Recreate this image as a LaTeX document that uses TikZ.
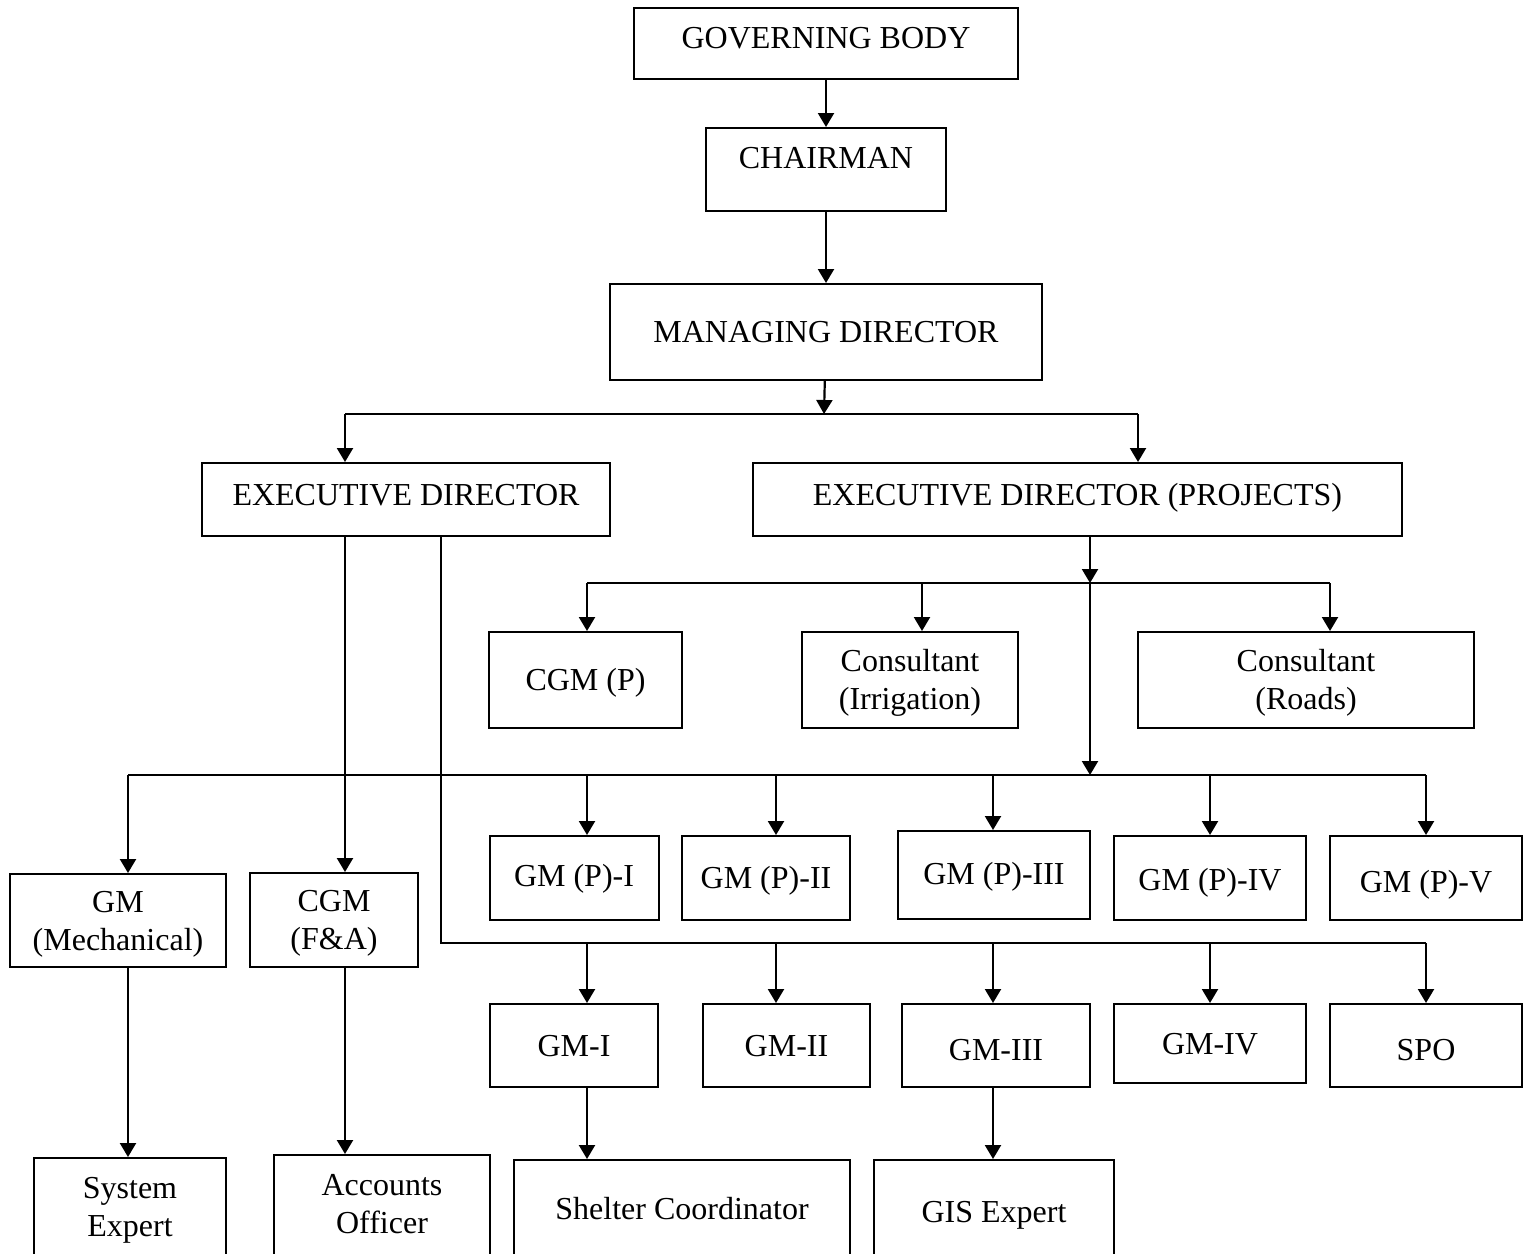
\documentclass[tikz,border=0pt]{standalone}
\usepackage{fontspec}
\setmainfont{Liberation Serif}
\usetikzlibrary{arrows.meta}
\tikzstyle{block} = [rectangle, draw, line width=1pt, text centered, inner sep=0pt]
\tikzstyle{oneline} = [text height=10.6pt, text depth=0pt]
\tikzstyle{twoline} = [align=center, text height=29.6pt, text depth=0pt]
\tikzstyle{line} = [line width=1.1pt]
\tikzstyle{arrow} = [line width=1.1pt, -{Triangle[length=7pt,width=8pt]}]

\begin{document}
\begin{tikzpicture}[x=0.5pt, y=-0.5pt, font=\fontsize{16}{19}\selectfont]
    \path[use as bounding box] (0,0) rectangle (1530,1253);
    \clip (0,0) rectangle (1530,1253);

    % Place nodes
    \node [block, oneline, text depth=6pt, minimum width=192pt, minimum height=35.5pt] (gb) at (826,43.5) {GOVERNING BODY};
    \node [block, oneline, text depth=12pt, minimum width=120pt, minimum height=41.5pt] (ch) at (826,169.5) {CHAIRMAN};
    \node [block, oneline, minimum width=216pt, minimum height=48pt] (md) at (826,332) {MANAGING DIRECTOR};
    \node [block, oneline, text depth=5pt, minimum width=204pt, minimum height=36.5pt] (ed) at (406,499.5) {EXECUTIVE DIRECTOR};
    \node [block, oneline, text depth=5pt, minimum width=324.5pt, minimum height=36.5pt] (edp) at (1077.5,499.5) {EXECUTIVE DIRECTOR (PROJECTS)};

    \node [block, oneline, minimum width=96.5pt, minimum height=48pt] (cgmp) at (585.5,680) {CGM (P)};
    \node [block, twoline, minimum width=108pt, minimum height=48pt] (cirr) at (910,680) {Consultant\\(Irrigation)};
    \node [block, twoline, minimum width=168pt, minimum height=48pt] (croad) at (1306,680) {Consultant\\(Roads)};

    \node [block, oneline, text depth=2.5pt, minimum width=84.5pt, minimum height=42pt] (gmp1) at (574,878) {GM (P)-I};
    \node [block, oneline, minimum width=84pt, minimum height=42pt] (gmp2) at (766,878) {GM (P)-II};
    \node [block, oneline, text depth=1pt, minimum width=96pt, minimum height=44pt] (gmp3) at (994,875) {GM (P)-III};
    \node [block, oneline, text height=12.6pt, minimum width=96pt, minimum height=42pt] (gmp4) at (1210,878) {GM (P)-IV};
    \node [block, oneline, text height=14.6pt, minimum width=96pt, minimum height=42pt] (gmp5) at (1426,878) {GM (P)-V};

    \node [block, twoline, minimum width=108pt, minimum height=46.5pt] (gmmech) at (118,920.5) {GM\\(Mechanical)};
    \node [block, twoline, minimum width=84pt, minimum height=47pt] (cgmfa) at (334,920) {CGM\\(F\&A)};

    \node [block, oneline, minimum width=84pt, minimum height=41.5pt] (gm1) at (574,1045.5) {GM-I};
    \node [block, oneline, minimum width=83.5pt, minimum height=41.5pt] (gm2) at (786.5,1045.5) {GM-II};
    \node [block, oneline, text height=15pt, minimum width=94pt, minimum height=41.5pt] (gm3) at (996,1045.5) {GM-III};
    \node [block, oneline, minimum width=96pt, minimum height=39.5pt] (gm4) at (1210,1043.5) {GM-IV};
    \node [block, oneline, text height=15pt, minimum width=96pt, minimum height=41.5pt] (spo) at (1426,1045.5) {SPO};

    \node [block, twoline, minimum width=96pt, minimum height=49pt] (sysx) at (130,1207) {System\\Expert};
    \node [block, twoline, text depth=3pt, minimum width=108pt, minimum height=51.5pt] (acco) at (382,1206.5) {Accounts\\Officer};
    \node [block, oneline, minimum width=168pt, minimum height=49pt] (shel) at (682,1209) {Shelter Coordinator};
    \node [block, oneline, minimum width=120pt, minimum height=52pt] (gis) at (994,1212) {GIS Expert};

    % Draw edges
    \draw [arrow] (gb) -- (ch);
    \draw [arrow] (ch) -- (md);

    \coordinate (mdsplit) at (824,414);
    \coordinate (edin) at (345,414);
    \coordinate (edpin) at (1138,414);
    \draw [arrow] (md) -- (mdsplit);
    \draw [line] (edin) -- (edpin);
    \draw [arrow] (edin) -- (edin |- ed.north);
    \draw [arrow] (edpin) -- (edpin |- edp.north);

    \coordinate (psplit) at (1090,583);
    \coordinate (gsplit) at (1090,775);
    \draw [arrow] (psplit |- edp.south) -- (psplit);
    \draw [arrow] (psplit) -- (gsplit);
    \draw [line] (587,583) -- (1330,583);
    \foreach \x/\n in {587/cgmp, 922/cirr, 1330/croad}
        \draw [arrow] (\x,583) -- (\n.north -| \x,583);

    \draw [line] (128,775) -- (1426,775);
    \foreach \x/\n in {128/gmmech, 587/gmp1, 776/gmp2, 993/gmp3, 1210/gmp4, 1426/gmp5}
        \draw [arrow] (\x,775) -- (\n.north -| \x,775);

    \draw [arrow] (ed.south -| 345,0) -- (cgmfa.north -| 345,0);
    \coordinate (edturn) at (441,943);
    \draw [line] (ed.south -| edturn) -- (edturn) -- (1426,943);
    \foreach \x/\n in {587/gm1, 776/gm2, 993/gm3, 1210/gm4, 1426/spo}
        \draw [arrow] (\x,943) -- (\n.north -| \x,943);

    \draw [arrow] (gmmech.south -| 128,0) -- (sysx.north -| 128,0);
    \draw [arrow] (cgmfa.south -| 345,0) -- (acco.north -| 345,0);
    \draw [arrow] (gm1.south -| 587,0) -- (shel.north -| 587,0);
    \draw [arrow] (gm3.south -| 993,0) -- (gis.north -| 993,0);
\end{tikzpicture}
\end{document}
